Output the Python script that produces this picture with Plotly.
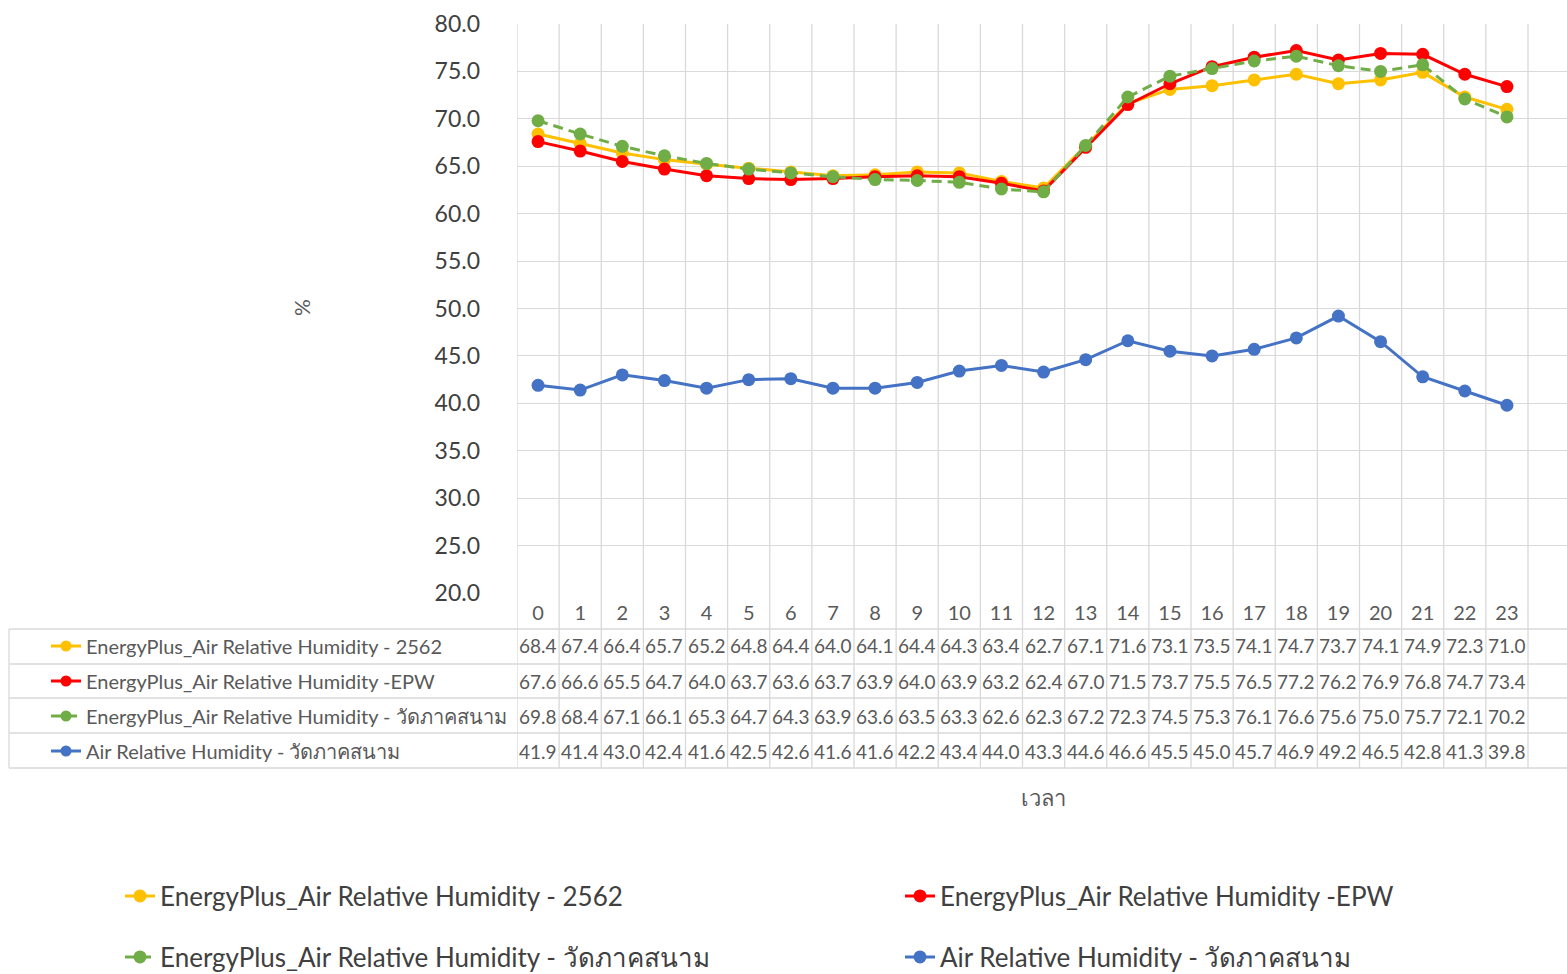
import plotly.graph_objects as go

# Hourly relative humidity (%) by hour of day
hours = list(range(24))
hour_labels = [str(h) for h in hours]

ep_2562 = [68.4, 67.4, 66.4, 65.7, 65.2, 64.8, 64.4, 64.0, 64.1, 64.4, 64.3, 63.4,
           62.7, 67.1, 71.6, 73.1, 73.5, 74.1, 74.7, 73.7, 74.1, 74.9, 72.3, 71.0]
ep_epw = [67.6, 66.6, 65.5, 64.7, 64.0, 63.7, 63.6, 63.7, 63.9, 64.0, 63.9, 63.2,
          62.4, 67.0, 71.5, 73.7, 75.5, 76.5, 77.2, 76.2, 76.9, 76.8, 74.7, 73.4]
ep_site = [69.8, 68.4, 67.1, 66.1, 65.3, 64.7, 64.3, 63.9, 63.6, 63.5, 63.3, 62.6,
           62.3, 67.2, 72.3, 74.5, 75.3, 76.1, 76.6, 75.6, 75.0, 75.7, 72.1, 70.2]
measured = [41.9, 41.4, 43.0, 42.4, 41.6, 42.5, 42.6, 41.6, 41.6, 42.2, 43.4, 44.0,
            43.3, 44.6, 46.6, 45.5, 45.0, 45.7, 46.9, 49.2, 46.5, 42.8, 41.3, 39.8]

series_names = [
    "EnergyPlus_Air Relative Humidity - 2562",
    "EnergyPlus_Air Relative Humidity -EPW",
    "EnergyPlus_Air Relative Humidity - วัดภาคสนาม",
    "Air Relative Humidity - วัดภาคสนาม",
]
series_values = [ep_2562, ep_epw, ep_site, measured]
series_colors = ["#FFC000", "#FF0000", "#70AD47", "#4472C4"]
series_dash = ["solid", "solid", "10px,6px", "solid"]

FONT = "Lato, 'Noto Sans', sans-serif"
GRID = "#D9D9D9"
TXT = "#595959"

W, H = 1567, 974
M_L, M_R, M_T, M_B = 517, 0, 24, 381
PW = W - M_L - M_R
PH = H - M_T - M_B


def px_x(p):
    return (p - M_L) / PW


def px_y(p):
    return (H - M_B - p) / PH


fig = go.Figure()

# main chart lines; each one keyed in its own legend box below the table
legend_of = ["legend", "legend2", "legend7", "legend8"]
for name, vals, col, dash, lg in zip(series_names, series_values, series_colors,
                                     series_dash, legend_of):
    fig.add_trace(go.Scatter(
        x=hours, y=vals, name=name, mode="lines+markers",
        line=dict(color=col, width=3, dash=dash),
        marker=dict(color=col, size=13),
        legend=lg,
    ))

# legend keys inside the data table (one legend per table row)
row_centers_px = [646, 681, 716, 751]
for i, (name, col, dash) in enumerate(zip(series_names, series_colors, series_dash)):
    fig.add_trace(go.Scatter(
        x=[None], y=[None], name=name, mode="lines+markers",
        line=dict(color=col, width=3, dash=dash),
        marker=dict(color=col, size=11),
        legend=f"legend{i + 3}", hoverinfo="skip",
    ))

shapes = []
# table / grid vertical lines at category boundaries
table_bottom = px_y(768)
for k in range(25):
    shapes.append(dict(type="line", xref="x", yref="paper", x0=k - 0.5, x1=k - 0.5,
                       y0=table_bottom, y1=1, line=dict(color=GRID, width=1.3), layer="below"))
# table left border
shapes.append(dict(type="line", xref="paper", yref="paper", x0=px_x(9), x1=px_x(9),
                   y0=px_y(629), y1=table_bottom, line=dict(color=GRID, width=1.3)))
# table row lines
for p in [629, 664, 698, 733, 768]:
    shapes.append(dict(type="line", xref="paper", yref="paper", x0=px_x(9), x1=1,
                       y0=px_y(p), y1=px_y(p), line=dict(color=GRID, width=1.3)))

annotations = []
# table cell values
for vals, rc in zip(series_values, row_centers_px):
    for h, v in zip(hours, vals):
        annotations.append(dict(x=h, xref="x", y=px_y(rc), yref="paper",
                                xanchor="center", yanchor="middle",
                                text=f"{v:.1f}", showarrow=False,
                                font=dict(family=FONT, size=19, color=TXT)))

annotations.append(dict(x=px_x(301), y=px_y(308), xref="paper", yref="paper",
                        xanchor="center", yanchor="middle",
                        text="%", textangle=-90, showarrow=False,
                        font=dict(family=FONT, size=21, color=TXT)))
annotations.append(dict(x=px_x(1043), y=px_y(797), xref="paper", yref="paper",
                        xanchor="center", yanchor="middle",
                        text="เวลา", showarrow=False,
                        font=dict(family=FONT, size=22, color=TXT)))

legend_boxes = {}
for i, rc in enumerate(row_centers_px):
    legend_boxes[f"legend{i + 3}"] = dict(
        x=px_x(46), y=px_y(rc), xanchor="left", yanchor="middle",
        bgcolor="rgba(0,0,0,0)", font=dict(family=FONT, size=20, color=TXT),
        itemclick=False, itemdoubleclick=False)

bottom_style = dict(xanchor="left", yanchor="middle", bgcolor="rgba(0,0,0,0)",
                    font=dict(family=FONT, size=26, color="#404040"))
legend_boxes["legend"] = dict(bottom_style, x=px_x(120), y=px_y(896))
legend_boxes["legend2"] = dict(bottom_style, x=px_x(900), y=px_y(896))
legend_boxes["legend7"] = dict(bottom_style, x=px_x(120), y=px_y(957))
legend_boxes["legend8"] = dict(bottom_style, x=px_x(900), y=px_y(957))

fig.update_layout(
    width=W, height=H,
    margin=dict(l=M_L, r=M_R, t=M_T, b=M_B, autoexpand=False),
    paper_bgcolor="white", plot_bgcolor="white",
    font=dict(family=FONT, color=TXT),
    showlegend=True,
    **legend_boxes,
    xaxis=dict(range=[-0.5, 23.5 + 39 / 42.13], tickvals=hours, ticktext=hour_labels,
               showgrid=False, zeroline=False, showline=False, ticks="",
               tickfont=dict(family=FONT, size=20, color=TXT), ticklabelstandoff=6),
    yaxis=dict(range=[20, 80], dtick=5, tick0=20, tickformat=".1f",
               showgrid=True, gridcolor=GRID, gridwidth=1.3,
               zeroline=False, showline=False, ticks="",
               tickfont=dict(family=FONT, size=23, color="#404040"),
               ticklabelstandoff=36),
    shapes=shapes,
    annotations=annotations,
)

fig.write_html("out.html")
